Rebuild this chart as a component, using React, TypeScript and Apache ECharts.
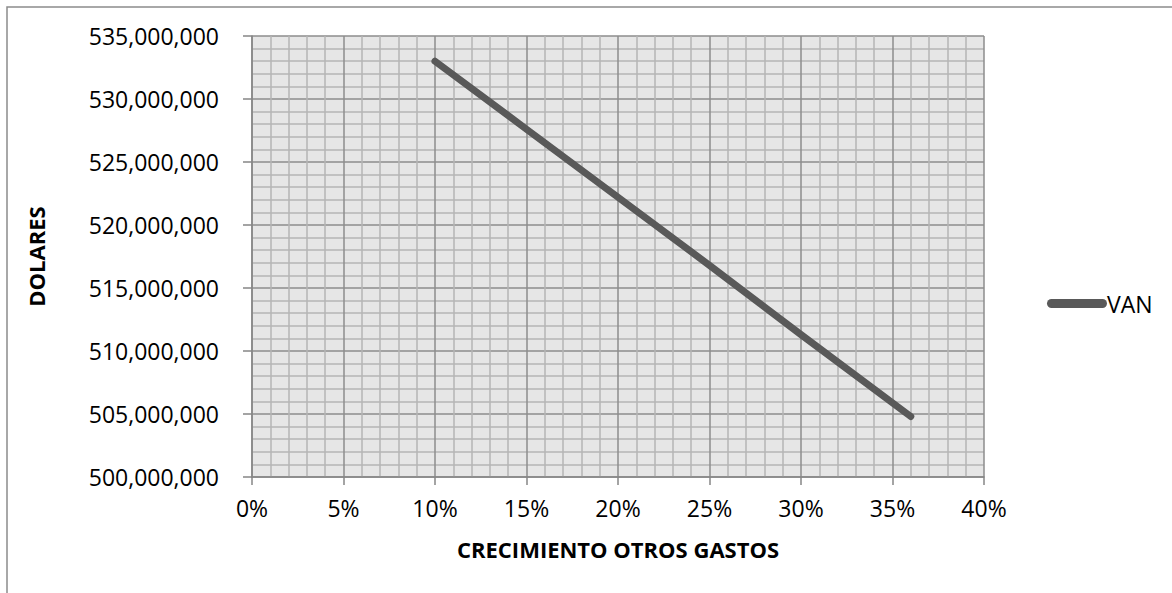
import React, { useEffect, useRef } from "react";
import * as echarts from "echarts";

const growth: number[] = [0.10, 0.15, 0.20, 0.25, 0.30, 0.36];
const van: number[] = [533000000, 527600000, 522200000, 516800000, 511300000, 504800000];
const seriesName = "VAN";
const xTitle = "CRECIMIENTO OTROS GASTOS";
const yTitle = "DOLARES";

const FONT = "'Open Sans', sans-serif";

export default function App() {
  const ref = useRef<HTMLDivElement>(null);
  useEffect(() => {
    if (!ref.current) return;
    const chart = echarts.init(ref.current, undefined, { renderer: "svg" });
    const fmtNum = (v: number) => v.toLocaleString("en-US");
    chart.setOption({
      animation: false,
      backgroundColor: "#ffffff",
      textStyle: { fontFamily: FONT },
      grid: {
        left: 252,
        right: 188,
        top: 36,
        bottom: 116,
        show: true,
        backgroundColor: "#e6e6e6",
        borderWidth: 0,
      },
      legend: {
        data: [seriesName],
        left: 1042,
        top: 287,
        itemWidth: 60,
        itemHeight: 9,
        itemGap: 0,
        icon: "path://M4.5,0 L55.5,0 A4.5,4.5 0 0 1 55.5,9 L4.5,9 A4.5,4.5 0 0 1 4.5,0 Z",
        textStyle: { fontFamily: FONT, fontSize: 23, color: "#000", padding: [0, 0, 0, -5] },
      },
      graphic: [
        {
          type: "rect",
          shape: { x: 7, y: 7, width: 1400, height: 800 },
          style: { fill: "none", stroke: "#8c8c8c", lineWidth: 1.5 },
          silent: true,
        },
      ],
      xAxis: {
        type: "value",
        min: 0,
        max: 0.4,
        interval: 0.05,
        name: xTitle,
        nameLocation: "middle",
        nameGap: 61,
        nameTextStyle: { fontFamily: FONT, fontSize: 22, fontWeight: "bold", color: "#000" },
        axisLine: { show: true, lineStyle: { color: "#868686", width: 1.5 } },
        axisTick: { show: true, length: 8, lineStyle: { color: "#868686", width: 1.5 } },
        axisLabel: {
          margin: 19,
          fontFamily: FONT,
          fontSize: 23,
          color: "#000",
          formatter: (v: number) => Math.round(v * 100) + "%",
        },
        splitLine: { show: true, lineStyle: { color: "#8c8c8c", width: 1.5 } },
        minorTick: { show: false, splitNumber: 5 },
        minorSplitLine: { show: true, lineStyle: { color: "#b4b4b4", width: 1.5 } },
      },
      yAxis: {
        type: "value",
        min: 500000000,
        max: 535000000,
        interval: 5000000,
        name: yTitle,
        nameLocation: "middle",
        nameGap: 205,
        nameRotate: 90,
        nameTextStyle: { fontFamily: FONT, fontSize: 22, fontWeight: "bold", color: "#000" },
        axisLine: { show: true, lineStyle: { color: "#868686", width: 1.5 } },
        axisTick: { show: true, length: 9, lineStyle: { color: "#868686", width: 1.5 } },
        axisLabel: {
          margin: 33,
          fontFamily: FONT,
          fontSize: 23,
          color: "#000",
          formatter: fmtNum,
        },
        splitLine: { show: true, lineStyle: { color: "#8c8c8c", width: 1.5 } },
        minorTick: { show: false, splitNumber: 5 },
        minorSplitLine: { show: true, lineStyle: { color: "#b4b4b4", width: 1.5 } },
      },
      series: [
        {
          name: seriesName,
          type: "line",
          data: growth.map((g, i) => [g, van[i]]),
          showSymbol: false,
          symbol: "none",
          color: "#595959",
          lineStyle: { color: "#595959", width: 7, cap: "round", join: "round" },
        },
      ],
    });
    return () => chart.dispose();
  }, []);
  return (
    <div
      ref={ref}
      style={{ position: "fixed", left: 0, top: 0, width: 1172, height: 593 }}
    />
  );
}
